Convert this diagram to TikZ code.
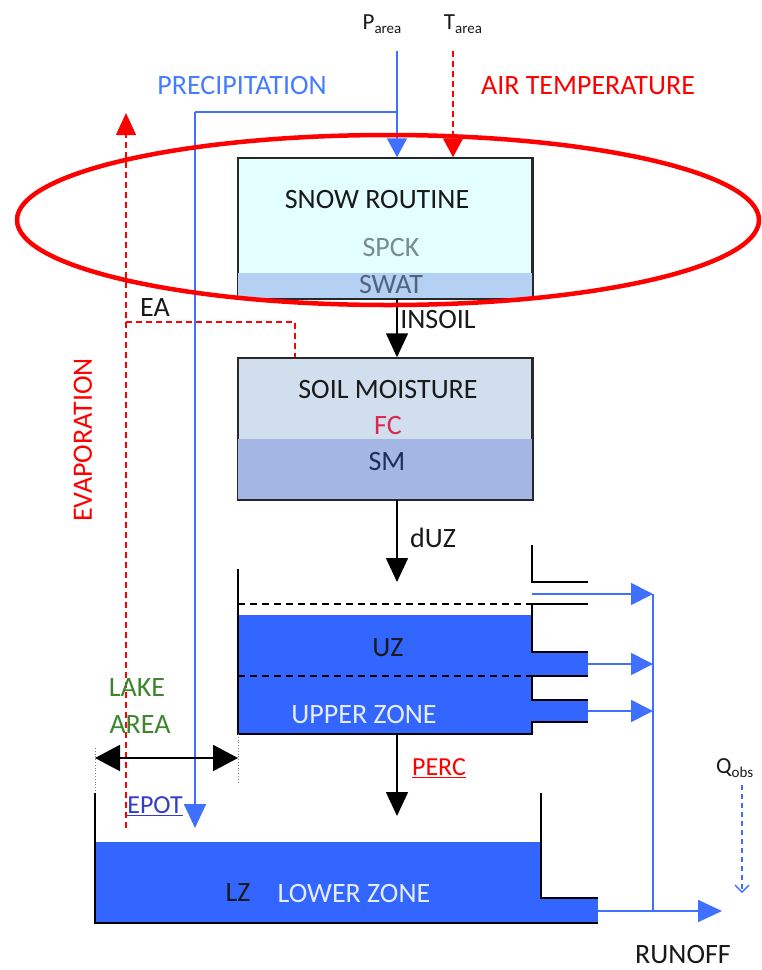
\documentclass[tikz,border=0pt]{standalone}
\usepackage{fontspec}
\setmainfont{Carlito}
\usetikzlibrary{arrows.meta,calc}
\definecolor{bluefill}{RGB}{51,102,255}
\definecolor{blueline}{RGB}{64,112,255}
\definecolor{snowc}{RGB}{226,254,254}
\definecolor{swatc}{RGB}{180,208,242}
\definecolor{soiltop}{RGB}{208,222,238}
\definecolor{soilbot}{RGB}{164,183,228}
\definecolor{precipc}{RGB}{70,125,255}
\definecolor{lakec}{RGB}{60,135,45}
\definecolor{fcc}{RGB}{220,40,80}
\definecolor{smc}{RGB}{30,45,90}
\definecolor{spckc}{RGB}{120,140,140}
\definecolor{swattxt}{RGB}{80,100,130}
\definecolor{zonetxt}{RGB}{230,236,255}
\definecolor{epotc}{RGB}{50,60,200}
\definecolor{darkline}{RGB}{40,40,40}
\definecolor{txtc}{RGB}{25,25,25}
\begin{document}
\begin{tikzpicture}[x=1pt,y=-1pt,
  lbl/.style={inner sep=0pt, text=txtc, font=\fontsize{28}{30}\selectfont},
  box/.style={draw=darkline, line width=1.5pt, inner sep=0pt, minimum width=294pt},
  bluel/.style={draw=blueline, line width=1.8pt},
  reddash/.style={draw=red, line width=1.5pt, dash pattern=on 6pt off 4pt},
  blk/.style={draw=black, line width=1.5pt},
  blkdash/.style={draw=black, line width=1.5pt, dash pattern=on 7pt off 5pt},
  tipin/.style={-{Triangle[length=19pt,width=20pt]}},
  tipbig/.style={-{Triangle[length=24pt,width=22pt]}},
  tipflow/.style={-{Triangle[length=22pt,width=22pt]}},
  dimarrow/.style={{Triangle[length=25pt,width=26pt]}-{Triangle[length=25pt,width=26pt]}},
  dotl/.style={draw=gray, line width=0.8pt, dotted}
]
\useasboundingbox (0,0) rectangle (761,970);

% ---------- top labels ----------
\node[lbl, font=\fontsize{23}{26}\selectfont] (pa) at (382,24) {P\raisebox{-4pt}{\fontsize{15}{15}\selectfont area}};
\node[lbl, font=\fontsize{23}{26}\selectfont] (ta) at (463,24) {T\raisebox{-4pt}{\fontsize{15}{15}\selectfont area}};
\node[lbl, text=precipc] (precip) at (242,86) {PRECIPITATION};
\node[lbl, text=red] (airt) at (588,86) {AIR TEMPERATURE};

% ---------- snow routine ----------
\node[box, fill=snowc, minimum height=140pt] (snow) at (385,228) {};
\fill[swatc] (238,273) rectangle (532,298);
\draw[darkline, line width=1.5pt] (snow.south west) rectangle (snow.north east);
\node[lbl] (snowt) at (377,200) {SNOW ROUTINE};
\node[lbl, text=spckc] (spck) at (391,248) {SPCK};
\node[lbl, text=swattxt] (swat) at (391,285) {SWAT};

% ---------- soil moisture ----------
\node[box, fill=soiltop, minimum height=141pt] (soil) at (385,428.5) {};
\fill[soilbot] (238,439) rectangle (532,499);
\draw[darkline, line width=1.5pt] (soil.south west) rectangle (soil.north east);
\node[lbl] (soilt) at (388,390) {SOIL MOISTURE};
\node[lbl, text=fcc] (fc) at (388,426) {FC};
\node[lbl, text=smc] (sm) at (387,462) {SM};

% ---------- coordinates ----------
\coordinate (ptop) at (397,51);
\coordinate (pj) at (397,112);
\coordinate (pl) at (195,112);
\coordinate (pbot) at (195,828);
\coordinate (ttop) at (453,51);
\coordinate (evb) at (126,828);
\coordinate (evt) at (126,113);
\coordinate (ea1) at (126,322);
\coordinate (ea2) at (295,322);
\coordinate (duz) at (397,582);
\coordinate (uzb) at (397,734);
\coordinate (percend) at (397,816);

% ---------- precipitation / temperature ----------
\draw[bluel] (pl) -- (pj);
\draw[bluel, tipin] (ptop) -- (ptop |- snow.north);
\draw[bluel, tipbig] (pl) -- (pbot);
\draw[reddash, tipin] (ttop) -- (ttop |- snow.north);

% ---------- evaporation ----------
\draw[reddash, -{Triangle[length=22pt,width=20pt]}] (evb) -- (evt);
\draw[reddash] (ea1) -- (ea2) -- (ea2 |- soil.north);
\node[lbl] (ea) at (155,308) {EA};
\node[lbl, text=red, rotate=90] (evap) at (83,440) {EVAPORATION};

% ---------- vertical black flows ----------
\draw[blk, tipbig] (snow.south -| ptop) -- (soil.north -| ptop);
\node[lbl] (insoil) at (438,320) {INSOIL};
\draw[blk, tipbig] (soil.south -| ptop) -- (duz);
\node[lbl] (duzt) at (433,538) {dUZ};

% ---------- upper zone tank ----------
\fill[bluefill] (238,615) rectangle (532,734);
\fill[bluefill] (532,652) rectangle (588,676);
\fill[bluefill] (532,700) rectangle (588,722);
\draw[blk] (238,569) -- (238,734) -- (532,734) -- (532,722) -- (588,722);
\draw[blk] (588,700) -- (532,700) -- (532,676) -- (588,676);
\draw[blk] (588,652) -- (532,652) -- (532,604) -- (588,604);
\draw[blk] (588,582) -- (532,582) -- (532,545);
\draw[blkdash] (238,604) -- (532,604);
\draw[blkdash] (238,676) -- (532,676);
\node[lbl] (uz) at (388,648) {UZ};
\node[lbl, text=zonetxt] (uzt) at (364,715) {UPPER ZONE};

% ---------- outflows ----------
\coordinate (o1) at (532,594);
\coordinate (o2) at (588,664);
\coordinate (o3) at (588,711);
\coordinate (c1) at (653,594);
\coordinate (c2) at (653,911);
\draw[bluel, tipflow] (o1) -- (c1);
\draw[bluel, tipflow] (o2) -- (o2 -| c1);
\draw[bluel, tipflow] (o3) -- (o3 -| c1);
\draw[bluel] (c1) -- (c2);

% ---------- lake area ----------
\node[lbl, text=lakec] (lake) at (137,688) {LAKE};
\node[lbl, text=lakec] (area) at (140,725) {AREA};
\coordinate (d1) at (95,758);
\coordinate (d2) at (238,758);
\draw[dotl] (95,748) -- (95,793);
\draw[dotl] (238,734) -- (238,783);
\draw[draw=black, line width=2pt, dimarrow] (d1) -- (d2);
\node[lbl, text=epotc, font=\fontsize{26}{28}\selectfont] (epot) at (155,806) {\underline{EPOT}};

% ---------- percolation ----------
\draw[blk, tipbig] (uzb) -- (percend);
\node[lbl, text=red, font=\fontsize{26}{28}\selectfont] (perc) at (439,768) {\underline{PERC}};

% ---------- lower zone tank ----------
\fill[bluefill] (95,842) rectangle (541,923);
\fill[bluefill] (541,898) rectangle (598,923);
\draw[blk] (95,793) -- (95,923) -- (598,923);
\draw[blk] (541,793) -- (541,898) -- (598,898);
\node[lbl] (lz) at (238,893) {LZ};
\node[lbl, text=zonetxt] (lzt) at (354,893) {LOWER ZONE};

% ---------- runoff ----------
\coordinate (r0) at (598,911);
\coordinate (r1) at (722,911);
\draw[bluel, -{Triangle[length=24pt,width=22pt]}] (r0) -- (r1);
\node[lbl] (runoff) at (683,955) {RUNOFF};
\node[lbl, anchor=west, font=\fontsize{23}{25}\selectfont] (qobs) at (716,768) {Q\raisebox{-4pt}{\fontsize{15}{15}\selectfont obs}};
\coordinate (q0) at (742,785);
\coordinate (q1) at (742,893);
\draw[draw=blueline, line width=1.3pt, dash pattern=on 5pt off 4pt, -{Straight Barb[length=7pt,width=14pt]}] (q0) -- (q1);

% ---------- snow routine highlight ----------
\draw[red, line width=4.5pt] (388,220) ellipse [x radius=371pt, y radius=85pt];
\end{tikzpicture}
\end{document}
